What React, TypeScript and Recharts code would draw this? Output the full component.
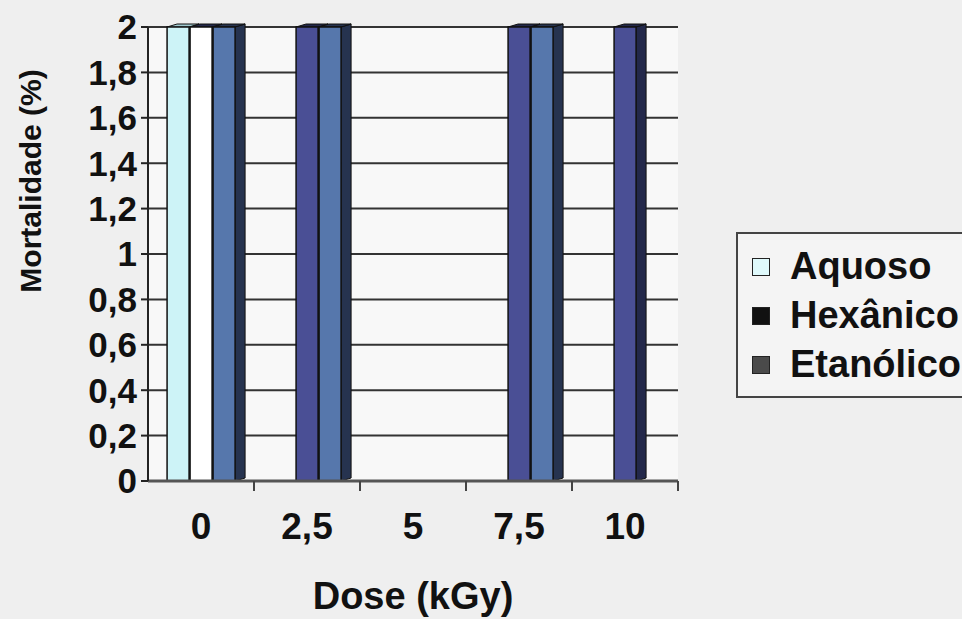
import React from "react";
import {
  BarChart,
  Bar,
  XAxis,
  YAxis,
  CartesianGrid,
  Cell,
} from "recharts";

const DOSES = ["0", "2,5", "5", "7,5", "10"];
const AQUOSO = [2, 0, 0, 0, 0];
const HEXANICO = [2, 2, 0, 2, 2];
const ETANOLICO = [2, 2, 0, 2, 0];
const Y_TICKS = [0, 0.2, 0.4, 0.6, 0.8, 1, 1.2, 1.4, 1.6, 1.8, 2];

const SERIES = [
  { key: "aquoso", name: "Aquoso", fill: "#cdf3f7", side: "#9fc9cf", swatch: "#dff9fb" },
  { key: "hexanico", name: "Hexânico", fill: "#4a4f95", side: "#23284a", swatch: "#111111" },
  { key: "etanolico", name: "Etanólico", fill: "#5677ac", side: "#26334f", swatch: "#4a4a4a" },
];

const data = DOSES.map((dose, i) => ({
  dose,
  aquoso: AQUOSO[i],
  hexanico: HEXANICO[i],
  etanolico: ETANOLICO[i],
}));

const FONT = "'Liberation Sans', Arial, sans-serif";
const TICK_MARGIN = 32;

function Bar3D(props: any) {
  const { x, y, width, height, fill, side } = props;
  if (!height || height <= 0) return null;
  const dx = 10;
  const dy = 3;
  return (
    <g>
      <path
        d={`M${x + width},${y} L${x + width + dx},${y - dy} L${x + width + dx},${y + height - dy} L${x + width},${y + height} Z`}
        fill={side}
        stroke="#111"
        strokeWidth={1}
      />
      <path
        d={`M${x},${y} L${x + dx},${y - dy} L${x + width + dx},${y - dy} L${x + width},${y} Z`}
        fill={side}
        stroke="#111"
        strokeWidth={1}
      />
      <rect x={x} y={y} width={width} height={height} fill={fill} stroke="#111" strokeWidth={1.5} />
    </g>
  );
}

// category label + boundary tick mark on the right side of each band
function DoseTick(props: any) {
  const { x, y, payload, width, visibleTicksCount } = props;
  const band = width / visibleTicksCount;
  const axisY = y - TICK_MARGIN;
  const bx = x + band / 2;
  return (
    <g>
      <line x1={bx} y1={axisY} x2={bx} y2={axisY + 10} stroke="#444" strokeWidth={2} />
      <text
        x={x}
        y={y}
        dy="0.71em"
        textAnchor="middle"
        fontFamily={FONT}
        fontWeight="bold"
        fontSize={37}
        fill="#111"
      >
        {payload.value}
      </text>
    </g>
  );
}

function YTitle(props: any) {
  const { viewBox } = props;
  const cx = 30;
  const cy = viewBox.y + 154;
  return (
    <text
      x={cx}
      y={cy}
      transform={`rotate(-90, ${cx}, ${cy})`}
      textAnchor="middle"
      dominantBaseline="central"
      fontFamily={FONT}
      fontWeight="bold"
      fontSize={30}
      fill="#111"
    >
      Mortalidade (%)
    </text>
  );
}

function Legend3() {
  return (
    <div
      style={{
        position: "absolute",
        left: 736,
        top: 232,
        width: 250,
        height: 166,
        border: "2px solid #444",
        background: "#f4f4f4",
        boxSizing: "border-box",
        paddingTop: 8,
      }}
    >
      {SERIES.map((s) => (
        <div
          key={s.key}
          style={{
            display: "flex",
            alignItems: "center",
            height: 49,
            fontFamily: FONT,
            fontWeight: "bold",
            fontSize: 38,
            color: "#111",
          }}
        >
          <span
            style={{
              display: "inline-block",
              width: 16,
              height: 16,
              marginLeft: 14,
              marginRight: 20,
              background: s.swatch,
              border: "1.5px solid #222",
            }}
          />
          {s.name}
        </div>
      ))}
    </div>
  );
}

export default function App() {
  return (
    <div
      style={{
        position: "absolute",
        left: 0,
        top: 0,
        width: 962,
        height: 619,
        background: "#efefef",
        overflow: "hidden",
      }}
    >
      <BarChart
        width={962}
        height={619}
        data={data}
        margin={{ top: 27, right: 284, bottom: 0, left: 0 }}
        barCategoryGap="18%"
        barGap={1}
      >
        <CartesianGrid vertical={false} stroke="#333" strokeWidth={2} fill="#f8f8f8" />
        <XAxis
          dataKey="dose"
          height={138}
          tickLine={false}
          axisLine={{ stroke: "#555", strokeWidth: 3 }}
          tickSize={0}
          tickMargin={TICK_MARGIN}
          interval={0}
          tick={<DoseTick />}
          label={{
            value: "Dose (kGy)",
            position: "insideBottom",
            offset: 10,
            style: { fontFamily: FONT, fontWeight: "bold", fontSize: 38, fill: "#111" },
          }}
        />
        <YAxis
          width={148}
          domain={[0, 2]}
          ticks={Y_TICKS}
          interval={0}
          tickSize={7}
          tickMargin={4}
          tickFormatter={(v: number) => String(v).replace(".", ",")}
          tick={{ fontFamily: FONT, fontWeight: "bold", fontSize: 35, fill: "#111" }}
          tickLine={{ stroke: "#222", strokeWidth: 2 }}
          axisLine={{ stroke: "#222", strokeWidth: 2 }}
          label={<YTitle />}
        />
        <YAxis
          yAxisId="right"
          orientation="right"
          width={0}
          domain={[0, 2]}
          tick={false}
          tickLine={false}
          axisLine={{ stroke: "#444", strokeWidth: 2 }}
        />
        {SERIES.map((s) => (
          <Bar
            key={s.key}
            dataKey={s.key}
            name={s.name}
            fill={s.fill}
            isAnimationActive={false}
            shape={(p: any) => <Bar3D {...p} side={s.side} />}
          >
            {data.map((d, i) => (
              <Cell
                key={d.dose}
                fill={s.key === "hexanico" && i === 0 ? "#ffffff" : s.fill}
              />
            ))}
          </Bar>
        ))}
      </BarChart>
      <Legend3 />
    </div>
  );
}
